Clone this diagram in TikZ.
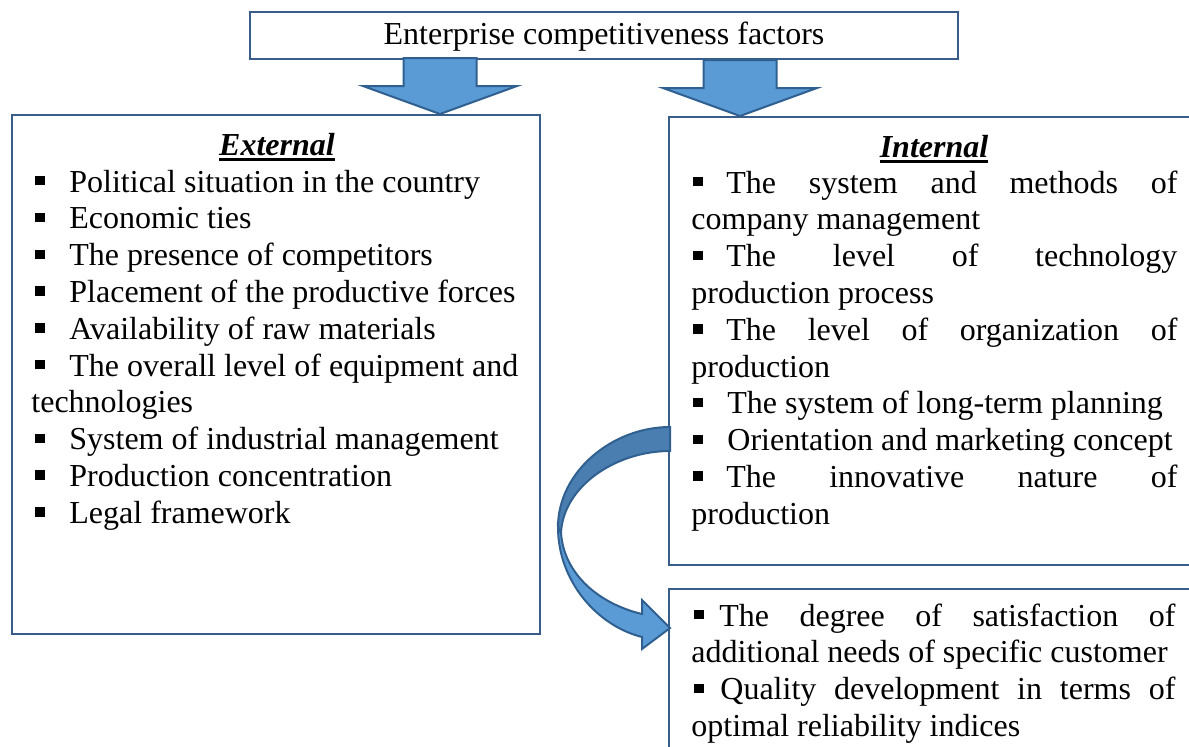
\documentclass[tikz,border=0pt]{standalone}
\usepackage{fontspec}
\setmainfont{Liberation Serif}
\usetikzlibrary{calc}
\definecolor{boxblue}{HTML}{385D8A}
\definecolor{arrfill}{HTML}{5B9BD5}
\definecolor{arrdark}{HTML}{4A7DB0}
\definecolor{arrline}{HTML}{30608F}
\newcommand\bsq{\rule[3.3pt]{4.7pt}{4.7pt}}
\newcommand\thickul[1]{\setbox0\hbox{#1}\rlap{\rule[-2.8pt]{\wd0}{1.4pt}}\box0}
\newcommand\jus[2]{\makebox[#1][s]{#2}}
\begin{document}
\begin{tikzpicture}[x=0.5pt,y=-0.5pt,
  frame/.style={draw=boxblue,line width=1.3pt,fill=white,inner sep=0pt,outer sep=0pt,anchor=north west},
  txt/.style={anchor=base west,inner sep=0pt,font=\fontsize{16}{18.4}\selectfont},
  ttl/.style={anchor=base,inner sep=0pt,font=\fontsize{16}{18.4}\selectfont\bfseries\itshape},
  fatarrow/.style={draw=arrline,line width=1pt,fill=arrfill,line join=miter}]
\useasboundingbox (0,0) rectangle (1189,746);
\clip (0,0) rectangle (1189,746);
% boxes
\node[frame,minimum width=354pt,minimum height=23.5pt] (title) at (250,12) {};
\node[frame,minimum width=264pt,minimum height=259.5pt] (ext) at (12,115) {};
\node[frame,minimum width=265pt,minimum height=224pt] (int) at (669,117) {};
\node[frame,minimum width=265pt,minimum height=90pt] (bot) at (669,589) {};
\node[txt,anchor=base] (titletext) at (604,44) {Enterprise competitiveness factors};
% straight arrows
\coordinate (lt) at (440,114);
\coordinate (rt) at (740,116);
\foreach \t in {lt,rt}{
\draw[fatarrow] ($(\t)+(-36.5,-56)$) -- ($(\t)+(36.5,-56)$) -- ($(\t)+(36.5,-28)$)
  -- ($(\t)+(77,-28)$) -- (\t) -- ($(\t)+(-77,-28)$) -- ($(\t)+(-36.5,-28)$) -- cycle;
}
% curved arrow
\coordinate (cs) at (670,427);
\coordinate (ce) at (670,628);
\draw[fatarrow,fill=arrdark] (cs) .. controls (612,427) and (558,472) .. (558,527)
  -- (561,533) .. controls (563,487) and (615,451) .. (670,451) -- cycle;
\draw[fatarrow] (558,527) .. controls (558,582) and (598,626) .. (642,637)
  -- (642,649) -- (ce) -- (642,600) -- (642,614)
  .. controls (600,604) and (564,575) .. (561,533) -- cycle;
% titles
\node[ttl] (exttitle) at (277,155) {\thickul{External}};
\node[ttl] (inttitle) at (934,157) {\thickul{Internal}};
% external list
\node[txt] (eb1) at (35,192) {\bsq};
\node[txt] (e1) at (69,192) {Political situation in the country};
\node[txt] (eb2) at (35,228.8) {\bsq};
\node[txt] (e2) at (69,228.8) {Economic ties};
\node[txt] (eb3) at (35,265.6) {\bsq};
\node[txt] (e3) at (69,265.6) {The presence of competitors};
\node[txt] (eb4) at (35,302.4) {\bsq};
\node[txt] (e4) at (69,302.4) {Placement of the productive forces};
\node[txt] (eb5) at (35,339.2) {\bsq};
\node[txt] (e5) at (69,339.2) {Availability of raw materials};
\node[txt] (eb6) at (35,376) {\bsq};
\node[txt] (e6) at (69,376) {\jus{224.5pt}{The overall level of equipment and}};
\node[txt] (e6b) at (31,412.8) {technologies};
\node[txt] (eb7) at (35,449.6) {\bsq};
\node[txt] (e7) at (69,449.6) {System of industrial management};
\node[txt] (eb8) at (35,486.4) {\bsq};
\node[txt] (e8) at (69,486.4) {Production concentration};
\node[txt] (eb9) at (35,523.2) {\bsq};
\node[txt] (e9) at (69,523.2) {Legal framework};
% internal list
\node[txt] (ib1) at (693,193) {\bsq};
\node[txt] (i1) at (726,193) {\jus{225.5pt}{The system and methods of}};
\node[txt] (i1b) at (691,229.8) {company management};
\node[txt] (ib2) at (693,266.6) {\bsq};
\node[txt] (i2) at (726,266.6) {\jus{225.5pt}{The level of technology}};
\node[txt] (i2b) at (691,303.4) {production process};
\node[txt] (ib3) at (693,340.2) {\bsq};
\node[txt] (i3) at (726,340.2) {\jus{225.5pt}{The level of organization of}};
\node[txt] (i3b) at (691,377) {production};
\node[txt] (ib4) at (693,413.8) {\bsq};
\node[txt] (i4) at (727,413.8) {The system of long-term planning};
\node[txt] (ib5) at (693,450.6) {\bsq};
\node[txt] (i5) at (727,450.6) {Orientation and marketing concept};
\node[txt] (ib6) at (693,487.4) {\bsq};
\node[txt] (i6) at (726,487.4) {\jus{225.5pt}{The innovative nature of}};
\node[txt] (i6b) at (691,524.2) {production};
% bottom list
\node[txt] (bb1) at (694,626) {\bsq};
\node[txt] (b1) at (719,626) {\jus{228pt}{The degree of satisfaction of}};
\node[txt] (b1b) at (691,662.8) {additional needs of specific customer};
\node[txt] (bb2) at (694,699.6) {\bsq};
\node[txt] (b2) at (720,699.6) {\jus{227.5pt}{Quality development in terms of}};
\node[txt] (b2b) at (691,736.4) {optimal reliability indices};
\end{tikzpicture}
\end{document}
